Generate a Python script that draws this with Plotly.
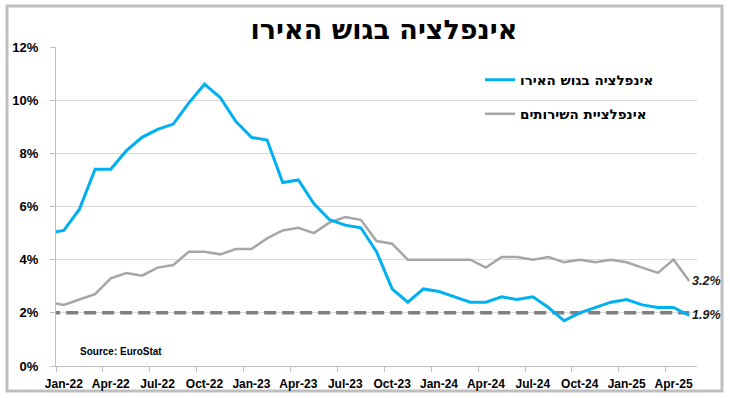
import plotly.graph_objects as go

# ---- data ----
FIRST_MONTH_INDEX = -1  # Dec-21 (partially visible at the left edge)
HEADLINE = [5.0,
            5.1, 5.9, 7.4, 7.4, 8.1, 8.6, 8.9, 9.1, 9.9, 10.6, 10.1, 9.2,
            8.6, 8.5, 6.9, 7.0, 6.1, 5.5, 5.3, 5.2, 4.3, 2.9, 2.4, 2.9,
            2.8, 2.6, 2.4, 2.4, 2.6, 2.5, 2.6, 2.2, 1.7, 2.0, 2.2, 2.4,
            2.5, 2.3, 2.2, 2.2, 1.9]
SERVICES = [2.4,
            2.3, 2.5, 2.7, 3.3, 3.5, 3.4, 3.7, 3.8, 4.3, 4.3, 4.2, 4.4,
            4.4, 4.8, 5.1, 5.2, 5.0, 5.4, 5.6, 5.5, 4.7, 4.6, 4.0, 4.0,
            4.0, 4.0, 4.0, 3.7, 4.1, 4.1, 4.0, 4.1, 3.9, 4.0, 3.9, 4.0,
            3.9, 3.7, 3.5, 4.0, 3.2]
TICK_LABELS = ["Jan-22", "Apr-22", "Jul-22", "Oct-22", "Jan-23", "Apr-23", "Jul-23",
               "Oct-23", "Jan-24", "Apr-24", "Jul-24", "Oct-24", "Jan-25", "Apr-25"]
TICK_STEP = 3
Y_TICKS = [0, 2, 4, 6, 8, 10, 12]
TARGET = 2.0
NAME_HEADLINE = "אינפלציה בגוש האירו"
NAME_SERVICES = "אינפלציית השירותים"
TITLE = "אינפלציה בגוש האירו"
SOURCE = "Source: EuroStat"

x = list(range(FIRST_MONTH_INDEX, FIRST_MONTH_INDEX + len(HEADLINE)))
last_x = x[-1]
tickvals = [i * TICK_STEP for i in range(len(TICK_LABELS))]
boundaries = [v - 0.5 for v in tickvals]

FONT = "Liberation Sans, Arial, DejaVu Sans, sans-serif"
HEB_FONT = "DejaVu Sans, Arial, sans-serif"
BLUE = "#00b0f0"
GRAY = "#a6a6a6"

fig = go.Figure()
fig.add_trace(go.Scatter(x=x, y=[TARGET] * len(x), mode="lines", showlegend=False,
                         hoverinfo="skip",
                         line=dict(color="#7f7f7f", width=3.5, dash="12px,6px")))
fig.add_trace(go.Scatter(x=x, y=SERVICES, mode="lines", name=NAME_SERVICES,
                         line=dict(color=GRAY, width=2.5), legend="legend2"))
fig.add_trace(go.Scatter(x=x, y=HEADLINE, mode="lines", name=NAME_HEADLINE,
                         line=dict(color=BLUE, width=3), legend="legend"))

# plot area: x 56..697, y 47..366
L, R, T, B = 56, 33, 47, 32
W, H = 730, 398
pw, ph = W - L - R, H - T - B

def px2x(p):
    return (p - L) / pw

def py2y(p):
    return (H - B - p) / ph

fig.add_shape(type="rect", xref="paper", yref="paper",
              x0=px2x(7), x1=px2x(722), y0=py2y(391), y1=py2y(6),
              line=dict(color="#bfbfbf", width=3), fillcolor="rgba(0,0,0,0)", layer="below")

for val in (HEADLINE[-1], SERVICES[-1]):
    fig.add_annotation(x=last_x, y=val, text=f"{val:.1f}%", showarrow=False,
                       xanchor="left", yanchor="middle", xshift=1,
                       font=dict(family=FONT, size=12.5, color="#1a1a1a", weight="bold", style="italic"))

fig.add_annotation(xref="paper", yref="paper", x=px2x(78), y=py2y(351), text=SOURCE,
                   showarrow=False, xanchor="left", yanchor="middle",
                   font=dict(family=FONT, size=10, color="#000", weight="bold"))

fig.update_layout(
    width=W, height=H,
    margin=dict(l=L, r=R, t=T, b=B, pad=0, autoexpand=False),
    paper_bgcolor="white", plot_bgcolor="white",
    font=dict(family=FONT, color="#000"),
    title=dict(text=TITLE, x=384 / W, xanchor="center", y=1 - 30 / H, yanchor="middle",
               yref="container",
               font=dict(family=HEB_FONT, size=27, color="#000", weight="bold")),
    legend=dict(x=px2x(480), y=py2y(80), xanchor="left", yanchor="middle",
                bgcolor="rgba(0,0,0,0)", itemwidth=30,
                font=dict(family=HEB_FONT, size=13.5, color="#000", weight="bold")),
    legend2=dict(x=px2x(480), y=py2y(114), xanchor="left", yanchor="middle",
                 bgcolor="rgba(0,0,0,0)", itemwidth=30,
                 font=dict(family=HEB_FONT, size=13.5, color="#000", weight="bold")),
    showlegend=True,
)

fig.update_xaxes(range=[-0.5, last_x + 0.5], tickmode="array", tickvals=tickvals,
                 ticktext=TICK_LABELS, ticks="", showgrid=False, zeroline=False,
                 showline=True, linecolor="#bfbfbf", linewidth=1, automargin=False,
                 tickfont=dict(family=FONT, size=12, color="#000", weight="bold"),
                 ticklabelstandoff=7,
                 minor=dict(tickmode="array", tickvals=boundaries, ticks="outside",
                            ticklen=5, tickcolor="#bfbfbf", tickwidth=1, showgrid=False))
fig.update_yaxes(range=[0, 12], tickmode="array", tickvals=Y_TICKS,
                 ticktext=[f"{v}%" for v in Y_TICKS], ticks="outside", ticklen=5,
                 tickcolor="#bfbfbf", showgrid=True, gridcolor="#d9d9d9", gridwidth=1,
                 zeroline=False, showline=True, linecolor="#bfbfbf", linewidth=1,
                 automargin=False, ticklabelstandoff=9,
                 tickfont=dict(family=FONT, size=13, color="#000", weight="bold"))

fig.write_html("out.html", config={"displayModeBar": False},
               post_script="document.body.style.margin='0px';")
